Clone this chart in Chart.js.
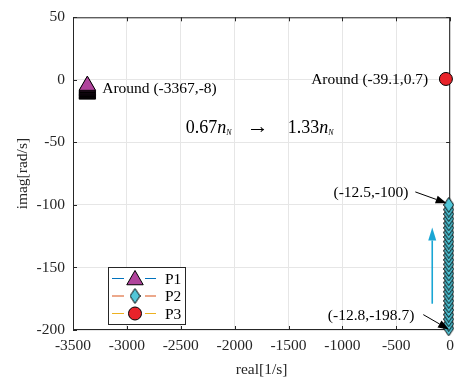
<!DOCTYPE html>
<html>
<head>
<meta charset="utf-8">
<script src="https://cdn.jsdelivr.net/npm/chart.js@4.4.1/dist/chart.umd.min.js"></script>
<style>
  html, body { margin: 0; padding: 0; background: #fff; }
  #wrap { width: 461px; height: 385px; }
</style>
</head>
<body>
<div id="wrap"><canvas id="poles" width="461" height="385"></canvas></div>
<script>
// axis ticks
const xTicks = [-3500, -3000, -2500, -2000, -1500, -1000, -500, 0];
const yTicks = [-200, -150, -100, -50, 0, 50];

// P1 poles (barely move, around -3367,-8)
const p1X = [-3367, -3367, -3367, -3367, -3367, -3367, -3367, -3367, -3367, -3367, -3367, -3367, -3367, -3367, -3367, -3367];
const p1Y = [-11.6, -11.2, -10.8, -10.4, -10.0, -9.5, -9.0, -8.6, -8.2, -7.8, -7.3, -6.8, -6.3, -5.8, -5.2, -4.6];

// P2 poles, 0.67nN -> 1.33nN moves up
const p2X = [-12.8, -12.8, -12.8, -12.8, -12.8, -12.7, -12.7, -12.7, -12.7, -12.7, -12.7, -12.7, -12.6, -12.6,
             -12.6, -12.6, -12.6, -12.6, -12.6, -12.6, -12.6, -12.5, -12.5, -12.5, -12.5, -12.5, -12.5, -12.5];
const p2Y = [-198.7, -195.0, -191.4, -187.7, -184.0, -180.4, -176.7, -173.1, -169.4, -165.8, -162.1, -158.5, -154.8, -151.2,
             -147.5, -143.9, -140.2, -136.6, -132.9, -129.3, -125.6, -122.0, -118.3, -114.7, -111.0, -107.3, -103.7, -100.0];

// P3 pole
const p3X = [-39.1];
const p3Y = [0.7];

const seriesNames = ['P1', 'P2', 'P3'];
const lineColors = ['#0072BD', '#D95319', '#EDB120'];
const fillColors = ['#B0449C', '#52C6D8', '#E8232A'];

const serif = "'Liberation Serif', 'DejaVu Serif', serif";

function toPoints(xs, ys) {
  return xs.map((x, i) => ({ x: x, y: ys[i] }));
}

// taller-than-wide diamond, like matlab's 'd' marker
function makeDiamond(color) {
  const c = document.createElement('canvas');
  c.width = 11; c.height = 16;
  const g = c.getContext('2d');
  g.beginPath();
  g.moveTo(5.5, 0.5); g.lineTo(10.5, 8); g.lineTo(5.5, 15.5); g.lineTo(0.5, 8);
  g.closePath();
  g.fillStyle = color; g.fill();
  g.strokeStyle = '#000'; g.lineWidth = 1; g.stroke();
  return c;
}
const diamond = makeDiamond(fillColors[1]);

function arrow(ctx, x1, y1, x2, y2, color, lw, headLen, headW) {
  const ang = Math.atan2(y2 - y1, x2 - x1);
  const bx = x2 - Math.cos(ang) * headLen, by = y2 - Math.sin(ang) * headLen;
  ctx.save();
  ctx.strokeStyle = color; ctx.fillStyle = color; ctx.lineWidth = lw;
  ctx.beginPath(); ctx.moveTo(x1, y1); ctx.lineTo(bx, by); ctx.stroke();
  ctx.beginPath();
  ctx.moveTo(x2, y2);
  ctx.lineTo(bx + Math.sin(ang) * headW / 2, by - Math.cos(ang) * headW / 2);
  ctx.lineTo(bx - Math.sin(ang) * headW / 2, by + Math.cos(ang) * headW / 2);
  ctx.closePath(); ctx.fill();
  ctx.restore();
}

function drawMarker(ctx, i, x, y) {
  ctx.save();
  ctx.strokeStyle = '#000'; ctx.lineWidth = 1; ctx.fillStyle = fillColors[i];
  if (i === 0) {
    const r = 9.5;
    ctx.beginPath();
    ctx.moveTo(x, y - r);
    ctx.lineTo(x + r * 0.866, y + r / 2);
    ctx.lineTo(x - r * 0.866, y + r / 2);
    ctx.closePath(); ctx.fill(); ctx.stroke();
  } else if (i === 1) {
    ctx.drawImage(diamond, x - 5.5, y - 8);
  } else {
    ctx.beginPath(); ctx.arc(x, y, 6.5, 0, Math.PI * 2); ctx.fill(); ctx.stroke();
  }
  ctx.restore();
}

const extras = {
  id: 'extras',
  beforeDatasetsDraw(chart) {
    const { ctx, chartArea: a } = chart;
    // box and inward ticks
    ctx.save();
    ctx.strokeStyle = '#262626'; ctx.lineWidth = 1;
    ctx.strokeRect(a.left + 0.5, a.top + 0.5, a.right - a.left - 1, a.bottom - a.top - 1);
    const xs = chart.scales.x, ys = chart.scales.y;
    ctx.beginPath();
    xTicks.forEach(v => {
      const px = Math.round(xs.getPixelForValue(v)) + 0.5;
      ctx.moveTo(px, a.bottom); ctx.lineTo(px, a.bottom - 4);
      ctx.moveTo(px, a.top); ctx.lineTo(px, a.top + 4);
    });
    yTicks.forEach(v => {
      const py = Math.round(ys.getPixelForValue(v)) + 0.5;
      ctx.moveTo(a.left, py); ctx.lineTo(a.left + 4, py);
      ctx.moveTo(a.right, py); ctx.lineTo(a.right - 4, py);
    });
    ctx.stroke();
    ctx.restore();
  },
  afterDatasetsDraw(chart) {
    const { ctx, chartArea: a } = chart;
    const xs = chart.scales.x, ys = chart.scales.y;
    const X = v => xs.getPixelForValue(v), Y = v => ys.getPixelForValue(v);

    ctx.save();
    ctx.fillStyle = '#000';
    ctx.textBaseline = 'middle';
    ctx.font = '15.5px ' + serif;
    ctx.textAlign = 'left';
    ctx.fillText('Around (-3367,-8)', X(-3229), Y(-7));
    ctx.textAlign = 'right';
    ctx.fillText('Around (-39.1,0.7)', X(-203), Y(0.3));
    ctx.fillText('(-12.5,-100)', X(-387), Y(-90.3));
    ctx.fillText('(-12.8,-198.7)', X(-332), Y(-189));

    // speed range text
    let tx = X(-2454);
    const ty = Y(-39);
    ctx.textAlign = 'left';
    const piece = (txt, font, dy) => {
      ctx.font = font;
      ctx.fillText(txt, tx, ty + dy);
      tx += ctx.measureText(txt).width;
    };
    const start = tx;
    piece('0.67', '18px ' + serif, 0);
    piece('n', 'italic 18px ' + serif, 0);
    piece('N', 'italic 8px ' + serif, 4);
    ctx.font = '22px ' + serif;
    ctx.textAlign = 'center';
    ctx.fillText('\u2192', start + 72, ty - 1);
    ctx.textAlign = 'left';
    tx = start + 102;
    piece('1.33', '18px ' + serif, 0);
    piece('n', 'italic 18px ' + serif, 0);
    piece('N', 'italic 8px ' + serif, 4);
    ctx.restore();

    // arrows
    arrow(ctx, X(-323), Y(-89.6), X(-32), Y(-98.6), '#000', 1, 11, 8);
    arrow(ctx, X(-249), Y(-187.7), X(-10), Y(-199.6), '#000', 1, 11, 8);
    arrow(ctx, X(-166), Y(-179), X(-166), Y(-118), '#1AA6D4', 1.6, 13, 8);

    // legend box
    const lx = a.left + 35, ly = a.bottom - 63, lw = 77, lh = 57;
    ctx.save();
    ctx.fillStyle = '#fff';
    ctx.fillRect(lx, ly, lw, lh);
    ctx.strokeStyle = '#262626'; ctx.lineWidth = 1;
    ctx.strokeRect(lx + 0.5, ly + 0.5, lw, lh);
    seriesNames.forEach((name, i) => {
      const cy = ly + 11.5 + i * 17.5;
      ctx.strokeStyle = lineColors[i]; ctx.lineWidth = 1.2;
      ctx.beginPath();
      ctx.moveTo(lx + 4, cy); ctx.lineTo(lx + 16, cy);
      ctx.moveTo(lx + 37, cy); ctx.lineTo(lx + 48, cy);
      ctx.stroke();
      drawMarker(ctx, i, lx + 27, cy + (i === 0 ? 1.5 : 0));
      ctx.fillStyle = '#000';
      ctx.font = '15.5px ' + serif;
      ctx.textBaseline = 'middle'; ctx.textAlign = 'left';
      ctx.fillText(name, lx + 57, cy + 1);
    });
    ctx.restore();
  }
};

const gridColor = '#e6e6e6';

new Chart(document.getElementById('poles'), {
  type: 'scatter',
  data: {
    datasets: [
      {
        label: seriesNames[0],
        data: toPoints(p1X, p1Y),
        showLine: true,
        borderColor: lineColors[0],
        borderWidth: 1,
        pointStyle: 'triangle',
        pointRadius: 9.5,
        pointBackgroundColor: fillColors[0],
        pointBorderColor: '#000',
        pointBorderWidth: 1,
        clip: false
      },
      {
        label: seriesNames[1],
        data: toPoints(p2X, p2Y),
        showLine: true,
        borderColor: lineColors[1],
        borderWidth: 1,
        pointStyle: diamond,
        pointRadius: 7,
        clip: false
      },
      {
        label: seriesNames[2],
        data: toPoints(p3X, p3Y),
        showLine: true,
        borderColor: lineColors[2],
        borderWidth: 1,
        pointStyle: 'circle',
        pointRadius: 6.5,
        pointBackgroundColor: fillColors[2],
        pointBorderColor: '#000',
        pointBorderWidth: 1,
        clip: false
      }
    ]
  },
  options: {
    responsive: false,
    animation: false,
    events: [],
    layout: { padding: { top: 9, right: 9, left: 0, bottom: 0 } },
    plugins: {
      legend: { display: false },
      tooltip: { enabled: false }
    },
    scales: {
      x: {
        type: 'linear',
        min: -3500,
        max: 0,
        afterBuildTicks: s => { s.ticks = xTicks.map(v => ({ value: v })); },
        afterFit: s => { s.height = 55; },
        ticks: {
          color: '#262626',
          font: { family: serif, size: 15.5 },
          padding: 7,
          maxRotation: 0,
          callback: v => String(v)
        },
        grid: { color: gridColor, drawTicks: false },
        border: { display: false },
        title: {
          display: true,
          text: 'real[1/s]',
          color: '#262626',
          font: { family: serif, size: 15.5 },
          padding: { top: 0, bottom: 6 }
        }
      },
      y: {
        type: 'linear',
        min: -200,
        max: 50,
        afterBuildTicks: s => { s.ticks = yTicks.map(v => ({ value: v })); },
        afterFit: s => { s.width = 73; },
        ticks: {
          color: '#262626',
          font: { family: serif, size: 15.5 },
          padding: 8,
          callback: v => String(v)
        },
        grid: { color: gridColor, drawTicks: false },
        border: { display: false },
        title: {
          display: true,
          text: 'imag[rad/s]',
          color: '#262626',
          font: { family: serif, size: 15.5 },
          padding: { top: 14, bottom: 0 }
        }
      }
    }
  },
  plugins: [extras]
});
</script>
</body>
</html>
